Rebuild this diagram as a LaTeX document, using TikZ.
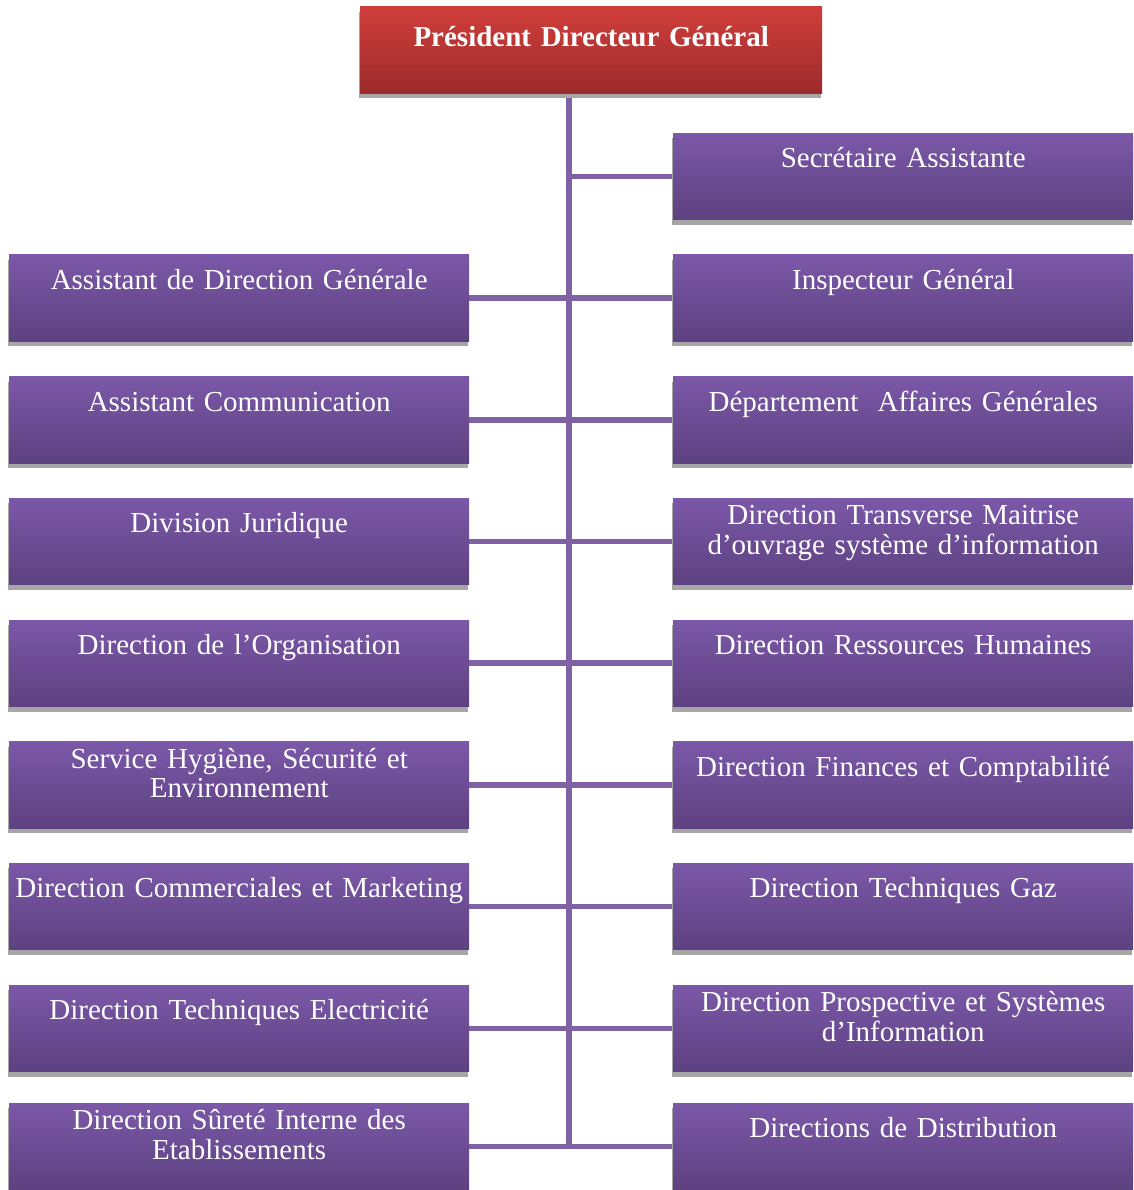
\documentclass[tikz,border=0pt]{standalone}
\usepackage{fontspec}
\setmainfont{Liberation Serif}
\usetikzlibrary{shadows,backgrounds}

\definecolor{redtop}{HTML}{D03E3B}
\definecolor{redbot}{HTML}{9C2A2B}
\definecolor{purtop}{HTML}{7B58A8}
\definecolor{purbot}{HTML}{5D4180}
\definecolor{linkcol}{HTML}{7E62A3}
\definecolor{shadowgray}{HTML}{A6A6A6}

\tikzset{
  box/.style={
    rectangle, anchor=north west, inner xsep=4pt, inner ysep=0pt,
    minimum width=460pt, minimum height=86.5pt, text width=452pt,
    align=center, text=white,
    font=\fontsize{29}{29.5}\selectfont,
    top color=purtop, bottom color=purbot,
    drop shadow={shadow xshift=-1pt, shadow yshift=-5pt, fill=shadowgray, opacity=1},
    text height=34.5pt, text depth=52pt},
  twoline/.style={text height=26.5pt, text depth=60pt},
  headbox/.style={box, top color=redtop, bottom color=redbot,
    minimum width=462pt, text width=454pt,
    font=\fontsize{29}{29.5}\selectfont\bfseries,
    text height=40pt, text depth=46.5pt},
  link/.style={draw=linkcol, line width=5.6pt}
}

\begin{document}
\begin{tikzpicture}[x=1pt,y=-1pt]
\useasboundingbox (0,0) rectangle (1133,1190);

% head of the organisation
\node[headbox] (pdg) at (360,6.7) {Président Directeur Général};

% right column
\node[box] (r0) at (673,133.0) {Secrétaire Assistante};
\node[box] (r1) at (673,254.7) {Inspecteur Général};
\node[box] (r2) at (673,376.4) {Département\ \ Affaires Générales};
\node[box,twoline] (r3) at (673,498.1) {Direction Transverse Maitrise\\d’ouvrage système d’information};
\node[box] (r4) at (673,619.8) {Direction Ressources Humaines};
\node[box] (r5) at (673,741.5) {Direction Finances et Comptabilité};
\node[box] (r6) at (673,863.2) {Direction Techniques Gaz};
\node[box,twoline] (r7) at (673,984.9) {Direction Prospective et Systèmes\\d’Information};
\node[box] (r8) at (673,1103.2) {Directions de Distribution};

% left column
\node[box] (l1) at (9,254.7) {Assistant de Direction Générale};
\node[box] (l2) at (9,376.4) {Assistant Communication};
\node[box] (l3) at (9,498.1) {Division Juridique};
\node[box] (l4) at (9,619.8) {Direction de l’Organisation};
\node[box,twoline] (l5) at (9,741.5) {Service Hygiène, Sécurité et\\Environnement};
\node[box] (l6) at (9,863.2) {Direction Commerciales et Marketing};
\node[box] (l7) at (9,984.9) {Direction Techniques Electricité};
\node[box,twoline] (l8) at (9,1103.2) {Direction Sûreté Interne des\\Etablissements};

% connectors, kept behind the boxes
\begin{scope}[on background layer]
  \coordinate (trunkx) at (569,0);
  \draw[link] (trunkx |- pdg.south) -- (trunkx |- l8.east);
  \draw[link] (trunkx |- r0.west) -- (r0.west);
  \foreach \i in {1,...,8}{
    \draw[link] (l\i.east) -- (r\i.west);
  }
\end{scope}
\end{tikzpicture}
\end{document}
